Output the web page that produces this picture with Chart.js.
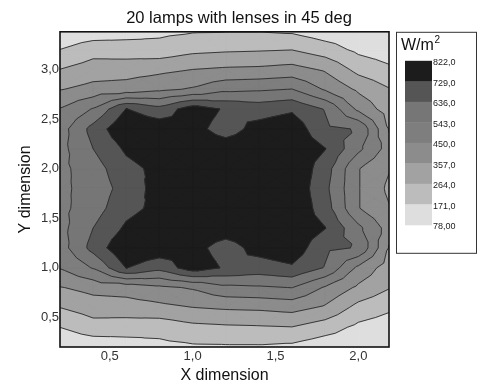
<!DOCTYPE html>
<html>
<head>
<meta charset="utf-8">
<script src="https://cdn.jsdelivr.net/npm/chart.js@4.4.1/dist/chart.umd.min.js"></script>
<style>
  html, body { margin: 0; padding: 0; background: #fff; }
  canvas { display: block; }
</style>
</head>
<body>
<canvas id="lampChart" width="478" height="385"></canvas>
<script>
// measuring grid, metres
const xPositions = [0.2, 0.4, 0.6, 0.8, 1.0, 1.2, 1.4, 1.6, 1.8, 2.0, 2.2];
const yPositions = [3.4, 3.2, 3.0, 2.8, 2.6, 2.4, 2.2, 2.0, 1.8, 1.6, 1.4, 1.2, 1.0, 0.8, 0.6, 0.4, 0.2];

// irradiance in W/m2, one row per y position (top row first)
const irradiance = [
  [85, 105, 125, 145, 158, 160, 160, 150, 112, 95, 82],
  [172, 227, 217, 207, 240, 250, 255, 262, 215, 150, 120],
  [265, 307, 315, 334, 357, 370, 375, 390, 345, 235, 185],
  [352, 388, 397, 430, 460, 520, 530, 545, 440, 340, 265],
  [455, 550, 732, 668, 780, 718, 690, 716, 630, 430, 300],
  [500, 668, 815, 790, 760, 690, 761, 790, 655, 630, 330],
  [512, 636, 745, 795, 800, 777, 800, 805, 732, 565, 400],
  [518, 595, 700, 755, 810, 812, 812, 810, 680, 455, 355],
  [520, 585, 671, 770, 818, 822, 818, 805, 660, 455, 330],
  [518, 595, 700, 755, 810, 812, 812, 810, 680, 455, 355],
  [512, 636, 745, 795, 800, 777, 800, 805, 732, 565, 400],
  [500, 668, 815, 790, 760, 690, 761, 790, 655, 630, 330],
  [455, 550, 732, 668, 780, 718, 690, 716, 630, 430, 300],
  [352, 388, 397, 430, 460, 520, 530, 545, 440, 340, 265],
  [265, 307, 315, 334, 357, 370, 375, 390, 345, 235, 185],
  [172, 227, 217, 207, 240, 250, 255, 262, 215, 150, 120],
  [85, 105, 125, 145, 158, 160, 160, 150, 112, 95, 82]
];

const levels = [78, 171, 264, 357, 450, 543, 636, 729, 822];
const levelLabels = ['78,00', '171,0', '264,0', '357,0', '450,0', '543,0', '636,0', '729,0', '822,0'];
const bandColors = ['#dedede', '#bcbcbc', '#a2a2a2', '#8c8c8c', '#7e7e7e', '#767676', '#555555', '#1c1c1c'];

const xTicks = [0.5, 1.0, 1.5, 2.0];
const yTicks = [0.5, 1.0, 1.5, 2.0, 2.5, 3.0];

Chart.defaults.font.family = "'Liberation Sans', Arial, sans-serif";

function commaLabel(v) {
    return v.toFixed(1).replace('.', ',');
}

// keep the part of a polygon above (or below) a level
function cutPolygon(poly, level, keepAbove) {
    const out = [];
    for (let i = 0; i < poly.length; i++) {
        const p = poly[i];
        const q = poly[(i + 1) % poly.length];
        const pIn = keepAbove ? p.v >= level : p.v <= level;
        const qIn = keepAbove ? q.v >= level : q.v <= level;
        if (pIn) out.push(p);
        if (pIn !== qIn) {
            const t = (level - p.v) / (q.v - p.v);
            out.push({ x: p.x + t * (q.x - p.x), y: p.y + t * (q.y - p.y), v: level });
        }
    }
    return out;
}

function gridTriangles(chart) {
    const xs = chart.scales.x;
    const ys = chart.scales.y;
    const node = (i, j) => ({
        x: xs.getPixelForValue(xPositions[j]),
        y: ys.getPixelForValue(yPositions[i]),
        v: irradiance[i][j]
    });
    const tris = [];
    for (let i = 0; i < yPositions.length - 1; i++) {
        for (let j = 0; j < xPositions.length - 1; j++) {
            const a = node(i, j), b = node(i, j + 1), c = node(i + 1, j + 1), d = node(i + 1, j);
            const m = {
                x: (a.x + b.x + c.x + d.x) / 4,
                y: (a.y + b.y + c.y + d.y) / 4,
                v: (a.v + b.v + c.v + d.v) / 4
            };
            tris.push([a, b, m], [b, c, m], [c, d, m], [d, a, m]);
        }
    }
    return tris;
}

const contourPlugin = {
    id: 'contour',
    beforeDatasetsDraw(chart) {
        const { ctx, chartArea } = chart;
        const tris = gridTriangles(chart);
        ctx.save();
        ctx.beginPath();
        ctx.rect(chartArea.left, chartArea.top, chartArea.right - chartArea.left, chartArea.bottom - chartArea.top);
        ctx.clip();
        ctx.lineJoin = 'round';

        // filled bands
        for (let k = 0; k < bandColors.length; k++) {
            const lo = k === 0 ? -Infinity : levels[k];
            const hi = k === bandColors.length - 1 ? Infinity : levels[k + 1];
            ctx.fillStyle = bandColors[k];
            ctx.strokeStyle = bandColors[k];
            ctx.lineWidth = 0.8;
            ctx.beginPath();
            tris.forEach(t => {
                let poly = cutPolygon(t, lo, true);
                if (poly.length < 3) return;
                poly = cutPolygon(poly, hi, false);
                if (poly.length < 3) return;
                ctx.moveTo(poly[0].x, poly[0].y);
                for (let n = 1; n < poly.length; n++) ctx.lineTo(poly[n].x, poly[n].y);
                ctx.closePath();
            });
            ctx.fill();
            ctx.stroke();
        }

        // contour lines
        ctx.strokeStyle = '#2b2b2b';
        ctx.lineWidth = 0.9;
        levels.slice(1, -1).forEach(level => {
            ctx.beginPath();
            tris.forEach(t => {
                const pts = [];
                for (let e = 0; e < 3; e++) {
                    const p = t[e], q = t[(e + 1) % 3];
                    if ((p.v >= level) !== (q.v >= level)) {
                        const f = (level - p.v) / (q.v - p.v);
                        pts.push([p.x + f * (q.x - p.x), p.y + f * (q.y - p.y)]);
                    }
                }
                if (pts.length === 2) {
                    ctx.moveTo(pts[0][0], pts[0][1]);
                    ctx.lineTo(pts[1][0], pts[1][1]);
                }
            });
            ctx.stroke();
        });
        ctx.restore();
    },
    afterDatasetsDraw(chart) {
        const { ctx, chartArea } = chart;
        ctx.save();
        ctx.strokeStyle = '#111';
        ctx.lineWidth = 1.6;
        ctx.strokeRect(chartArea.left, chartArea.top, chartArea.right - chartArea.left, chartArea.bottom - chartArea.top);
        ctx.restore();
    }
};

const colourKeyPlugin = {
    id: 'colourKey',
    afterDraw(chart) {
        const { ctx, chartArea } = chart;
        const left = chartArea.right + 7;
        const top = chartArea.top;
        ctx.save();
        ctx.fillStyle = '#fff';
        ctx.fillRect(left, top, 80, 221);
        ctx.strokeStyle = '#333';
        ctx.lineWidth = 1;
        ctx.strokeRect(left + 0.5, top + 0.5, 80, 221);

        ctx.fillStyle = '#111';
        ctx.textBaseline = 'middle';
        ctx.textAlign = 'left';
        ctx.font = "16px 'Liberation Sans', Arial, sans-serif";
        ctx.fillText('W/m', left + 5, top + 14);
        const w = ctx.measureText('W/m').width;
        ctx.font = "10px 'Liberation Sans', Arial, sans-serif";
        ctx.fillText('2', left + 5 + w + 0.5, top + 8);

        const swH = 20.5;
        const swTop = top + 29;
        for (let k = bandColors.length - 1, n = 0; k >= 0; k--, n++) {
            ctx.fillStyle = bandColors[k];
            ctx.fillRect(left + 9, swTop + n * swH, 27, swH + 0.5);
        }
        ctx.fillStyle = '#222';
        ctx.font = "9px 'Liberation Sans', Arial, sans-serif";
        for (let n = 0; n < levelLabels.length; n++) {
            ctx.fillText(levelLabels[levelLabels.length - 1 - n], left + 37, swTop + n * swH + 2);
        }
        ctx.restore();
    }
};

new Chart(document.getElementById('lampChart'), {
    type: 'scatter',
    data: {
        datasets: [{
            label: 'W/m2',
            data: [],
            pointRadius: 0
        }]
    },
    options: {
        responsive: false,
        animation: false,
        layout: { padding: 0 },
        plugins: {
            legend: { display: false },
            tooltip: { enabled: false },
            title: {
                display: true,
                text: '20 lamps with lenses in 45 deg',
                color: '#111',
                font: { size: 16.5, weight: 'normal' },
                padding: { top: 9, bottom: 3 }
            }
        },
        scales: {
            x: {
                type: 'linear',
                min: 0.2,
                max: 2.185,
                afterBuildTicks: (axis) => { axis.ticks = xTicks.map(v => ({ value: v })); },
                afterFit: (axis) => { axis.height = 38; },
                grid: { display: false, drawTicks: false },
                border: { display: false },
                ticks: { callback: (v) => commaLabel(v), color: '#333', font: { size: 13 }, padding: 2 },
                title: { display: true, text: 'X dimension', color: '#111', font: { size: 16 }, padding: { top: 0, bottom: 0 } }
            },
            y: {
                type: 'linear',
                min: 0.2,
                max: 3.38,
                afterBuildTicks: (axis) => { axis.ticks = yTicks.map(v => ({ value: v })); },
                afterFit: (axis) => { axis.width = 60; },
                grid: { display: false, drawTicks: false },
                border: { display: false },
                ticks: { callback: (v) => commaLabel(v), color: '#333', font: { size: 13 }, padding: 1 },
                title: { display: true, text: 'Y dimension', color: '#111', font: { size: 16 }, padding: { top: 16, bottom: 0 } }
            },
            // empty axis that reserves the room of the colour key
            keyRoom: {
                type: 'linear',
                position: 'right',
                afterFit: (axis) => { axis.width = 89; },
                grid: { display: false, drawTicks: false },
                border: { display: false },
                ticks: { display: false }
            }
        }
    },
    plugins: [contourPlugin, colourKeyPlugin]
});
</script>
</body>
</html>
